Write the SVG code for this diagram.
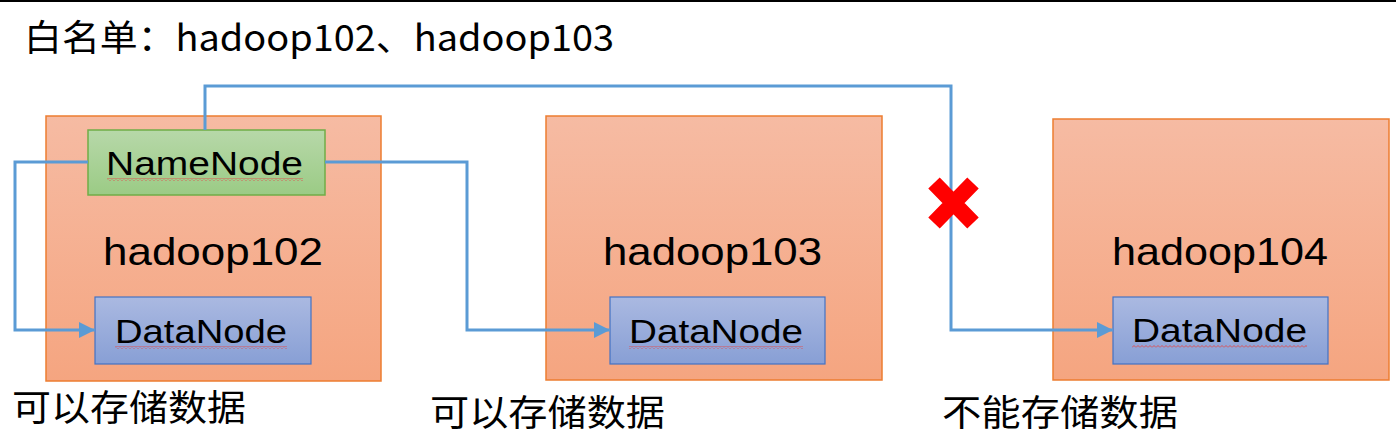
<svg xmlns="http://www.w3.org/2000/svg" width="1396" height="436" viewBox="0 0 1396 436">
<defs>
<linearGradient id="gHost" x1="0" y1="0" x2="0" y2="1"><stop offset="0" stop-color="#F6BBA3"/><stop offset="1" stop-color="#F5A580"/></linearGradient>
<linearGradient id="gName" x1="0" y1="0" x2="0" y2="1"><stop offset="0" stop-color="#B7D8A9"/><stop offset="1" stop-color="#9BCB85"/></linearGradient>
<linearGradient id="gData" x1="0" y1="0" x2="0" y2="1"><stop offset="0" stop-color="#AAB9E1"/><stop offset="1" stop-color="#889FD5"/></linearGradient>
<marker id="arr" markerWidth="5.5" markerHeight="5.5" refX="5.5" refY="2.75" orient="auto" markerUnits="strokeWidth"><path d="M0,0 L5.5,2.75 L0,5.5 Z" fill="#5B9BD5"/></marker>
<pattern id="sq" width="4" height="3" patternUnits="userSpaceOnUse"><path d="M0,2.5 L2,0.5 L4,2.5" stroke="#E04848" fill="none" stroke-width="0.9"/></pattern>
</defs>
<style>
.host{fill:url(#gHost);stroke:#ED7D31;stroke-width:1.5}
.nn{fill:url(#gName);stroke:#70AD47;stroke-width:1.5}
.dn{fill:url(#gData);stroke:#4472C4;stroke-width:1.2}
.t{font-family:"Liberation Sans","Noto Sans CJK SC",sans-serif;fill:#000}
.cjk{font-family:"Noto Sans CJK SC","Liberation Sans",sans-serif;fill:#000}
.conn{fill:none;stroke:#5B9BD5;stroke-width:3}
</style>
<rect x="0" y="0" width="1396" height="436" fill="#FFFFFF"/>
<rect x="0" y="0" width="1396" height="2" fill="#000"/>
<text class="cjk" x="24" y="51" font-size="36" textLength="590" lengthAdjust="spacingAndGlyphs">白名单：hadoop102、hadoop103</text>

<g id="hadoop102">
<rect class="host" x="46" y="116" width="335" height="265"/>
<text class="t" x="103" y="265" font-size="39" textLength="220" lengthAdjust="spacingAndGlyphs">hadoop102</text>
</g>
<g id="namenode">
<rect class="nn" x="88" y="130" width="237" height="65"/>
<text class="t" x="106" y="175" font-size="33" textLength="197" lengthAdjust="spacingAndGlyphs">NameNode</text>
<rect x="107" y="178" width="196" height="3" fill="url(#sq)"/>
</g>
<g id="datanode102">
<rect class="dn" x="95" y="297" width="216" height="67"/>
<text class="t" x="115" y="343" font-size="34" textLength="172" lengthAdjust="spacingAndGlyphs">DataNode</text>
<rect x="115" y="346" width="172" height="3" fill="url(#sq)"/>
</g>

<g id="hadoop103">
<rect class="host" x="546" y="116" width="336" height="264"/>
<text class="t" x="603" y="265" font-size="39" textLength="219" lengthAdjust="spacingAndGlyphs">hadoop103</text>
</g>
<g id="datanode103">
<rect class="dn" x="610" y="297" width="215" height="67"/>
<text class="t" x="629" y="343" font-size="34" textLength="174" lengthAdjust="spacingAndGlyphs">DataNode</text>
<rect x="629" y="346" width="174" height="3" fill="url(#sq)"/>
</g>

<g id="hadoop104">
<rect class="host" x="1053" y="119" width="336" height="261"/>
<text class="t" x="1112" y="265" font-size="39" textLength="216" lengthAdjust="spacingAndGlyphs">hadoop104</text>
</g>
<g id="datanode104">
<rect class="dn" x="1113" y="297" width="215" height="67"/>
<text class="t" x="1132" y="342" font-size="34" textLength="175" lengthAdjust="spacingAndGlyphs">DataNode</text>
<rect x="1132" y="345" width="175" height="3" fill="url(#sq)"/>
</g>

<g id="connectors">
<path class="conn" d="M88,162 H15 V330 H95" marker-end="url(#arr)"/>
<path class="conn" d="M325,162 H467 V330 H610" marker-end="url(#arr)"/>
<path class="conn" d="M205,130 V86 H951 V330 H1113" marker-end="url(#arr)"/>
</g>

<g id="blocked">
<path d="M934,183 L973,223 M973,183 L934,223" stroke="#FF0000" stroke-width="16" fill="none"/>
</g>

<g id="labels">
<text class="cjk" x="12" y="421" font-size="36" textLength="234" lengthAdjust="spacingAndGlyphs">可以存储数据</text>
<text class="cjk" x="430" y="426" font-size="36" textLength="235" lengthAdjust="spacingAndGlyphs">可以存储数据</text>
<text class="cjk" x="942" y="426" font-size="36" textLength="236" lengthAdjust="spacingAndGlyphs">不能存储数据</text>
</g>
</svg>
